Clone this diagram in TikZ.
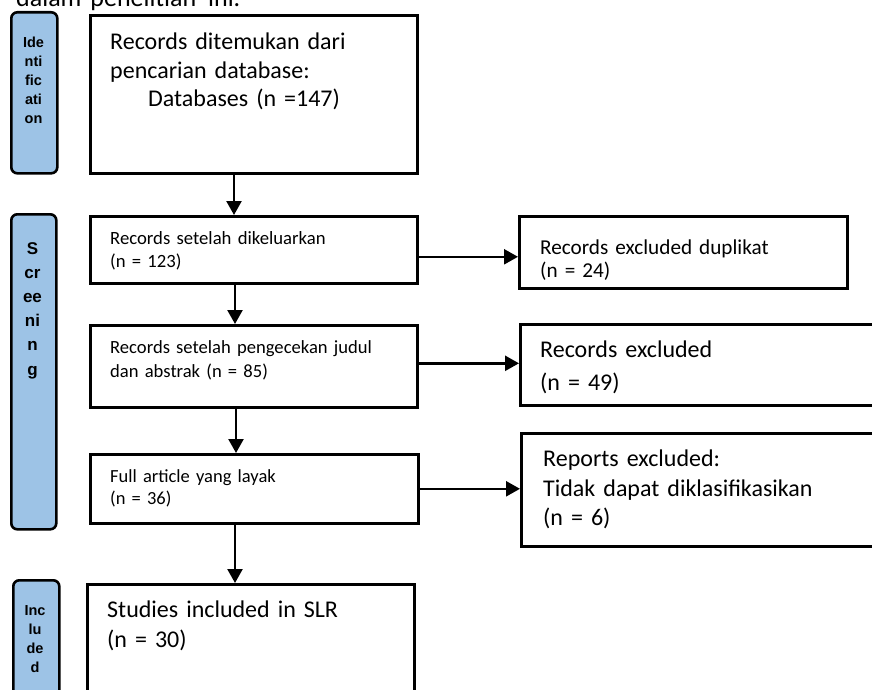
\documentclass[tikz,border=0pt]{standalone}
\usepackage{fontspec}
\setmainfont{Carlito}
\newfontfamily\stagefont{Liberation Sans}
\usetikzlibrary{arrows.meta, calc, positioning}
\definecolor{stageblue}{RGB}{157,195,230}

\tikzset{
  box/.style={draw, line width=2.6pt, anchor=north west, inner sep=0pt},
  stage/.style={draw, line width=2.6pt, rounded corners=6pt, fill=stageblue, anchor=north west, inner sep=0pt},
  boxtext/.style={anchor=base west, inner sep=0pt, text width=330pt, align=left},
  stagetext/.style={anchor=base, inner sep=0pt, text width=44pt, align=center},
  flow/.style={->, line width=2.4pt}
}

\begin{document}
\begin{tikzpicture}[x=1pt, y=-1pt, >={Triangle[length=14pt,width=15pt]}]
  \useasboundingbox (0,0) rectangle (872,690);
  % cut-off line of the page text
  \node[anchor=base west, inner sep=0pt, font=\fontsize{26}{30}\selectfont] (pagetext) at (16,6.5) {dalam\hspace{9pt}penelitian\hspace{12pt}ini.};

  % stage bars
  \node[stage, minimum width=46pt, minimum height=161pt] (identification) at (10,11) {};
  \node[stage, minimum width=45pt, minimum height=315pt] (screening) at (10,213) {};
  \node[stage, minimum width=46pt, minimum height=140pt] (included) at (12,579) {};
  \node[stagetext, font=\stagefont\bfseries\fontsize{14.5}{18.9}\selectfont] (identificationlbl) at (33.5,47.7) {Ide\\nti\\fic\\ati\\on};
  \node[stagetext, font=\stagefont\bfseries\fontsize{17}{24.2}\selectfont] (screeninglbl) at (32.5,254) {S\\cr\\ee\\ni\\n\\g};
  \node[stagetext, font=\stagefont\bfseries\fontsize{14.5}{19.3}\selectfont] (includedlbl) at (35,615) {Inc\\lu\\de\\d};

  % boxes
  \node[box, minimum width=327pt, minimum height=158pt] (found) at (89,14) {};
  \node[box, minimum width=327pt, minimum height=67pt] (dedup) at (89,215) {};
  \node[box, minimum width=327pt, minimum height=82pt] (screened) at (89,324) {};
  \node[box, minimum width=328pt, minimum height=69pt] (eligible) at (89,453) {};
  \node[box, minimum width=327pt, minimum height=130pt] (includedbox) at (86,583) {};
  \node[box, minimum width=328pt, minimum height=72pt] (duplicates) at (518,215) {};
  \node[box, minimum width=400pt, minimum height=81pt] (excluded) at (519,323) {};
  \node[box, minimum width=400pt, minimum height=113pt] (reports) at (520,432) {};

  % box texts
  \node[boxtext, font=\fontsize{24}{28.5}\selectfont] (foundtxt) at (110,50) {Records ditemukan dari\\pencarian database:\\\hspace*{38pt}Databases (n =147)};
  \node[boxtext, font=\fontsize{18.7}{23}\selectfont] (deduptxt) at (110,244) {Records setelah dikeluarkan\\(n = 123)};
  \node[boxtext, font=\fontsize{18.6}{24}\selectfont] (screenedtxt) at (110,353.5) {Records setelah pengecekan judul\\dan abstrak (n = 85)};
  \node[boxtext, font=\fontsize{18.5}{22.5}\selectfont] (eligibletxt) at (110,482) {Full article yang layak\\(n = 36)};
  \node[boxtext, font=\fontsize{24}{30}\selectfont] (includedtxt) at (107,617) {Studies included in SLR\\(n = 30)};
  \node[boxtext, font=\fontsize{21.2}{23}\selectfont] (duplicatestxt) at (540,254) {Records excluded duplikat\\(n = 24)};
  \node[boxtext, font=\fontsize{24}{33}\selectfont] (excludedtxt) at (540,357) {Records excluded\\(n = 49)};
  \node[boxtext, font=\fontsize{24}{29.3}\selectfont] (reportstxt) at (543,466.7) {Reports excluded:\\Tidak dapat diklasifikasikan\\(n = 6)};

  % arrows
  \draw[flow] ([xshift=145pt]found.south west) -- ([xshift=145pt]found.south west |- dedup.north);
  \draw[flow] ([xshift=146pt]dedup.south west) -- ([xshift=146pt]dedup.south west |- screened.north);
  \draw[flow] ([xshift=147pt]screened.south west) -- ([xshift=147pt]screened.south west |- eligible.north);
  \draw[flow] ([xshift=146pt]eligible.south west) -- ([xshift=146pt]eligible.south west |- includedbox.north);
  \draw[flow] ([yshift=-7pt]dedup.east) -- ([yshift=-7pt]dedup.east -| duplicates.west);
  \draw[flow] ([yshift=3pt]screened.east) -- ([yshift=3pt]screened.east -| excluded.west);
  \draw[flow] (eligible.east) -- (eligible.east -| reports.west);
\end{tikzpicture}
\end{document}
